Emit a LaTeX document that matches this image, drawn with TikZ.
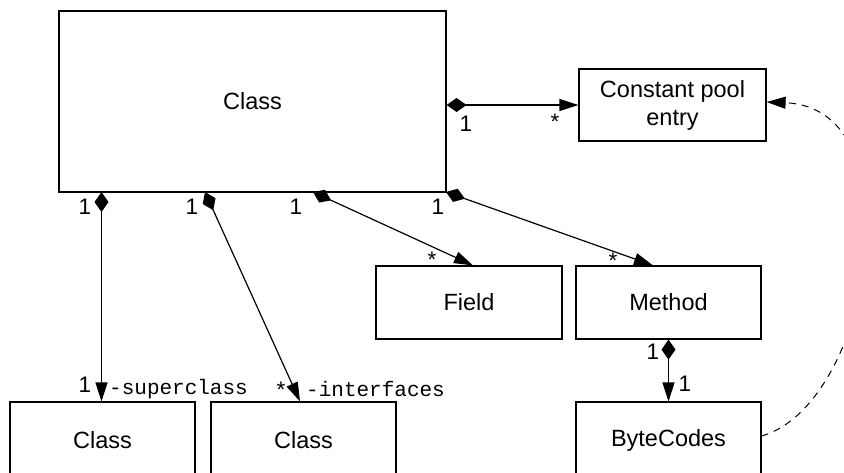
\documentclass[tikz,border=0pt]{standalone}
\usepackage{fontspec}
\setmainfont{Liberation Sans}
\setmonofont{Liberation Mono}
\usetikzlibrary{arrows.meta}
\begin{document}
\begin{tikzpicture}[x=1pt,y=-1pt,
  box/.style={draw,line width=1.2pt,rectangle,inner sep=0pt,font=\fontsize{23.5}{28}\selectfont,align=center},
  lbl/.style={font=\fontsize{22.5}{25}\selectfont,inner sep=0pt},
  mono/.style={font=\ttfamily\fontsize{21}{24}\selectfont,inner sep=0pt,anchor=west},
  comp/.style={line width=1.2pt,{Diamond[length=20pt,width=14pt]}-{Triangle[length=19pt,width=12pt]}},
  dep/.style={line width=1pt,dash pattern=on 7pt off 6pt,-{Triangle[length=19pt,width=12pt]}}]
\useasboundingbox (0,0) rectangle (844,472);
\node[box,minimum width=387pt,minimum height=181pt] (Class) at (252.5,101.5) {Class};
\node[box,minimum width=187pt,minimum height=72pt] (CP) at (672.5,105) {Constant pool\\entry};
\node[box,minimum width=186pt,minimum height=73pt] (F) at (469,302.5) {Field};
\node[box,minimum width=185pt,minimum height=73pt] (M) at (668.5,302.5) {Method};
\node[box,minimum width=185pt,minimum height=76pt] (BC) at (668.5,440) {ByteCodes};
\node[box,minimum width=185pt,minimum height=76pt] (C1) at (102.5,440) {Class};
\node[box,minimum width=185pt,minimum height=76pt] (C2) at (303.5,440) {Class};
\coordinate (s1) at (101.5,192);
\coordinate (s2) at (205,192);
\coordinate (s3) at (313,192);
\coordinate (s4) at (446,192);
% connectors
\draw[comp] (Class.east |- CP.west) -- (CP.west);
\draw[comp] (s1) -- (s1 |- C1.north);
\draw[comp] (s2) -- ([xshift=-3.5pt]C2.north);
\draw[comp] (s3) -- ([xshift=4pt]F.north);
\draw[comp] (s4) -- ([xshift=-15.5pt]M.north);
\draw[comp] (M.south) -- (BC.north);
\draw[dep] ([yshift=4pt]BC.east) .. controls (872,405) and (920,108) .. ([yshift=3pt]CP.east);
% labels
\node[lbl] (l1) at (466,124) {1};
\node[lbl] (l2) at (555,122) {*};
\node[lbl] (l3) at (85,207) {1};
\node[lbl] (l4) at (192,207) {1};
\node[lbl] (l5) at (296,207) {1};
\node[lbl] (l6) at (438,207) {1};
\node[lbl] (l7) at (432,260) {*};
\node[lbl] (l8) at (613,261) {*};
\node[lbl] (l9) at (85,385) {1};
\node[lbl] (l10) at (281,390) {*};
\node[lbl] (l11) at (653,352) {1};
\node[lbl] (l12) at (685,384) {1};
\node[mono] (t1) at (109,389) {-superclass};
\node[mono] (t2) at (306,389) {-interfaces};
\end{tikzpicture}
\end{document}
